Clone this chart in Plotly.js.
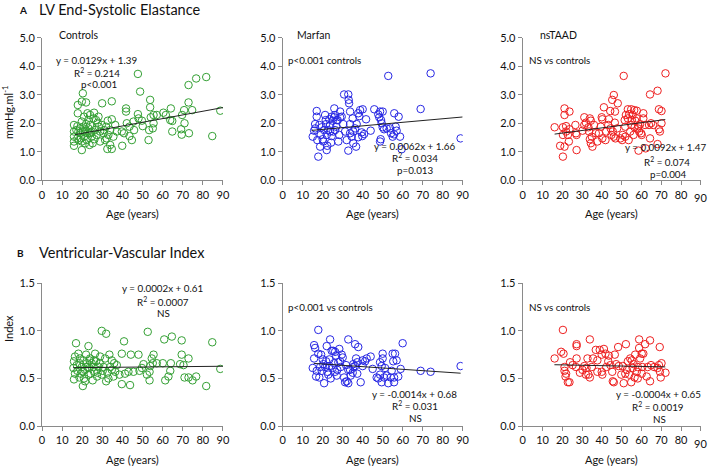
<!DOCTYPE html>
<html><head><meta charset="utf-8">
<script src="https://cdn.plot.ly/plotly-3.0.1.min.js"></script>
<style>html,body{margin:0;padding:0;background:#fff}#c{width:709px;height:466px}</style>
</head><body><div id="c"></div>
<script>
// ---- Data: LV End-Systolic Elastance (mmHg/ml) vs age ----
const eesControlsAge = [88.7,81.7,76.7,72.9,72.9,74.7,84.7,70.7,69.7,70.9,69.2,69.5,73.1,64.1,63.8,64.8,64.8,61.6,60.4,57.1,55.5,54.1,53.8,53.8,55.5,55.1,53.3,53.0,48.8,47.7,47.7,48.0,49.7,50.1,45.5,45.8,44.7,43.5,41.8,41.8,42.2,39.9,39.7,40.8,43.5,34.7,34.7,36.4,37.2,34.7,32.5,29.9,32.7,33.9,31.9,33.9,33.0,31.4,35.5,30.6,32.2,30.9,28.1,25.9,23.9,21.9,20.3,19.8,17.8,17.8,19.8,15.9,15.9,15.9,15.9,15.9,17.6,18.1,17.6,19.8,19.8,20.6,21.4,20.9,22.3,23.1,23.1,22.6,23.9,24.7,25.2,26.4,26.9,27.2,28.2,28.9,25.6,23.6,21.4,18.9,18.9,21.9,24.2,26.1,20.3,17.1,20.9,22.6,19.4,27.7,29.7,28.9,21.6,18.3,24.7,23.6];
const eesControlsVal = [2.44,3.62,3.57,3.34,2.73,2.46,1.55,2.46,2.29,2.00,1.79,1.60,1.65,2.52,2.11,2.08,1.71,2.29,2.37,2.29,2.29,2.21,2.82,2.56,2.00,1.82,1.76,1.41,3.11,3.73,2.32,2.17,2.09,1.90,2.06,1.76,1.41,1.55,2.52,2.41,2.00,1.21,1.71,1.65,1.88,2.77,2.14,1.94,1.71,1.10,1.10,2.70,2.09,1.24,1.88,1.76,1.59,1.41,1.53,1.65,1.47,1.76,2.23,2.37,2.29,2.73,3.05,2.76,2.64,2.35,1.06,1.94,1.71,1.53,1.36,1.21,1.90,1.71,1.47,1.36,2.06,1.88,1.71,1.53,1.41,2.11,1.82,1.65,1.94,1.53,1.30,1.76,2.11,1.59,1.88,1.36,2.17,1.24,1.30,1.65,1.82,1.97,1.67,1.44,1.71,1.76,2.23,2.35,1.47,2.02,1.94,1.71,1.79,1.41,1.71,1.65];
const eesMarfanAge = [89.0,74.0,52.8,69.0,58.0,55.8,59.5,58.7,56.5,57.0,55.7,55.0,53.7,52.0,50.0,50.7,49.0,48.7,50.0,48.3,49.2,49.5,47.8,45.8,44.0,41.7,40.0,38.7,37.8,38.3,37.0,39.5,39.8,36.7,36.2,35.3,34.5,33.7,35.0,32.8,33.0,33.2,33.7,30.7,32.8,32.0,33.7,29.5,28.7,28.3,27.8,27.0,26.7,26.2,25.8,25.7,25.0,24.5,24.2,23.7,23.3,22.8,22.3,22.0,21.7,21.2,20.7,20.0,19.5,19.0,18.3,17.8,18.7,17.0,17.0,16.2,15.7,15.0,16.3,17.3,20.3,22.0,27.5,28.7,30.3,31.2,25.3,23.7,40.7,37.8,35.3,54.2,48.7,21.5,24.5,26.2];
const eesMarfanVal = [1.47,3.75,3.66,2.50,2.23,2.35,1.09,1.53,1.88,1.74,1.61,1.53,1.82,1.82,1.86,1.79,1.44,2.41,2.41,2.21,2.11,2.00,2.31,2.49,1.74,2.14,2.49,2.46,2.35,2.25,1.97,1.68,1.55,1.18,1.82,1.71,1.53,1.65,2.17,3.01,2.82,2.70,2.41,3.01,1.04,1.41,1.97,2.23,2.41,1.59,1.36,2.11,1.88,1.76,2.52,2.21,2.09,1.55,1.32,1.94,2.14,1.76,1.21,1.59,1.97,2.29,1.76,1.44,1.86,1.59,1.94,0.83,1.18,2.43,2.23,1.97,1.74,1.53,1.82,1.41,1.36,1.06,2.11,2.21,1.97,1.71,1.71,1.71,1.62,1.51,1.30,1.65,1.36,2.11,2.23,2.29];
const eesTaadAge = [72.1,51.0,68.1,64.3,46.0,45.2,48.0,41.0,44.2,46.6,53.1,54.8,56.3,57.6,68.8,70.1,21.1,23.6,21.1,16.1,20.3,21.9,23.6,21.9,20.3,22.8,23.3,18.9,21.1,20.3,27.2,26.6,26.9,27.2,31.1,31.1,31.9,33.2,33.9,34.4,33.5,33.9,34.4,35.2,34.9,36.9,37.7,38.5,39.9,40.2,39.4,40.2,41.8,42.2,43.2,43.5,44.4,44.8,45.5,46.5,46.8,46.0,47.7,49.3,50.2,50.5,51.5,51.8,52.1,53.1,53.8,54.3,54.8,55.1,55.5,56.0,56.5,56.8,57.6,58.1,58.5,58.8,59.3,59.8,60.1,58.5,60.9,60.9,61.8,62.1,63.8,64.3,64.8,65.9,68.8,69.3,68.1,70.1,51.8,53.5,36.0,30.2];
const eesTaadVal = [3.75,3.66,3.14,3.01,2.99,2.82,2.70,2.56,2.43,2.41,2.49,2.49,2.46,2.44,2.49,2.43,2.52,2.41,2.29,1.86,1.86,1.90,1.79,1.71,1.59,1.59,1.36,1.21,1.18,0.83,1.06,1.94,1.65,1.59,2.21,1.94,2.02,1.86,2.17,2.09,1.71,1.44,1.30,1.18,1.53,1.65,1.36,1.65,2.21,2.14,1.88,1.47,1.41,1.71,1.94,2.14,1.82,1.59,1.71,2.02,1.47,1.53,1.82,1.47,1.41,1.59,2.11,1.88,2.29,2.17,2.32,1.71,1.94,2.11,2.29,1.59,1.86,2.09,2.17,1.82,1.90,1.71,1.97,1.65,1.59,1.04,2.35,2.17,1.94,1.12,1.94,1.47,2.00,1.94,1.79,1.71,1.27,2.00,1.53,1.41,1.94,1.74];

// ---- Data: Ventricular-Vascular Index vs age ----
const vviControlsAge = [88.7,84.7,81.7,76.7,74.9,72.9,72.9,70.9,69.5,69.5,68.7,70.4,64.6,60.8,64.1,63.8,62.9,61.3,60.1,57.1,55.5,54.6,55.1,53.8,53.5,53.5,52.6,50.5,48.0,48.5,45.5,44.2,43.8,43.0,41.3,40.8,39.7,39.7,38.5,37.2,36.4,35.5,34.7,33.9,33.5,32.5,31.9,31.9,29.7,31.4,30.6,29.7,28.9,28.1,27.6,26.9,26.4,25.9,25.2,24.7,23.9,23.6,23.1,23.1,22.3,21.9,21.4,20.9,20.6,20.3,19.8,19.3,18.6,18.1,17.6,16.9,16.4,15.9,15.6,15.9,16.4,17.3,18.6,21.4,22.6,24.2,25.6,27.4,28.7,30.2,33.0,34.7,35.9,20.3,23.6,18.9,25.9,49.7,52.2];
const vviControlsVal = [0.60,0.88,0.42,0.52,0.48,0.71,0.51,0.51,0.90,0.75,0.65,0.64,0.94,0.91,0.66,0.58,0.52,0.48,0.66,0.66,0.75,0.71,0.66,0.63,0.57,0.48,0.99,0.65,0.75,0.58,0.57,0.75,0.43,0.57,0.55,0.89,0.76,0.44,0.54,0.64,0.57,0.52,0.69,0.62,0.75,0.56,0.47,0.97,1.00,0.71,0.62,0.54,0.73,0.62,0.56,0.68,0.76,0.57,0.48,0.66,0.71,0.61,0.84,0.54,0.66,0.75,0.59,0.50,0.69,0.42,0.62,0.55,0.66,0.76,0.58,0.87,0.73,0.68,0.61,0.49,0.55,0.64,0.51,0.47,0.62,0.55,0.62,0.52,0.66,0.58,0.50,0.59,0.66,0.57,0.69,0.71,0.69,0.61,0.54];
const vviMarfanAge = [89.0,74.0,69.0,60.0,59.0,57.8,57.0,56.2,55.0,55.3,55.7,55.7,54.5,54.0,52.8,52.0,50.7,50.0,50.0,49.5,49.5,48.7,47.8,48.7,47.0,44.0,42.0,40.0,40.0,39.0,37.8,36.2,36.7,37.3,36.2,37.3,35.3,35.0,34.0,32.8,32.8,32.8,32.0,31.2,30.7,30.0,29.5,29.0,28.3,27.8,27.3,27.0,26.7,26.2,25.7,25.3,25.0,24.5,24.0,23.7,23.3,22.8,22.3,22.0,21.7,21.2,20.7,20.0,19.5,18.7,18.3,17.8,17.8,17.0,16.2,15.7,15.7,15.0,16.7,19.2,20.3,23.3,26.2,28.7,31.7,33.7,35.3,41.2,51.2,45.0];
const vviMarfanVal = [0.63,0.57,0.58,0.87,0.60,0.52,0.69,0.76,0.76,0.68,0.51,0.46,0.58,0.51,0.45,0.53,0.51,0.76,0.71,0.63,0.46,0.54,0.50,0.67,0.51,0.73,0.71,0.69,0.63,0.46,0.83,0.86,0.71,0.67,0.63,0.55,0.62,0.56,0.53,0.91,0.59,0.45,0.47,0.46,0.51,0.72,0.75,0.62,0.81,0.67,0.59,0.53,0.74,0.78,0.66,0.79,0.61,0.79,0.50,0.91,0.70,0.54,0.57,0.84,0.68,0.62,0.45,0.70,0.58,0.62,0.51,1.01,0.76,0.58,0.82,0.85,0.71,0.61,0.52,0.75,0.65,0.63,0.57,0.68,0.64,0.59,0.65,0.68,0.61,0.60];
const vviTaadAge = [72.1,69.7,69.2,70.1,68.8,69.3,68.1,64.3,64.3,64.8,63.1,62.6,61.8,60.9,60.4,60.1,58.8,58.8,59.3,60.1,58.1,57.6,56.8,56.5,56.0,55.1,54.8,54.3,53.8,53.1,52.6,52.1,51.8,51.0,50.5,49.8,48.2,47.2,46.5,46.0,45.5,45.2,44.3,43.5,43.2,42.2,41.8,41.0,40.2,39.9,39.9,38.9,37.7,36.9,35.5,33.9,33.9,33.2,32.7,32.2,31.9,31.1,28.9,27.2,27.2,26.9,27.2,23.9,23.6,22.8,21.9,21.6,21.1,21.1,20.3,20.6,19.4,16.1,25.2,30.2,34.9,48.5,58.1,66.4,37.7,55.5];
const vviTaadVal = [0.56,0.51,0.83,0.66,0.64,0.57,0.61,0.90,0.47,0.64,0.62,0.52,0.86,0.76,0.62,0.55,0.91,0.82,0.71,0.76,0.50,0.57,0.75,0.51,0.65,0.69,0.46,0.71,0.54,0.68,0.59,0.86,0.55,0.45,0.63,0.54,0.83,0.65,0.75,0.46,0.47,0.57,0.64,0.74,0.68,0.62,0.76,0.81,0.54,0.57,0.75,0.80,0.69,0.80,0.71,0.91,0.51,0.54,0.71,0.61,0.54,0.63,0.56,0.84,0.71,0.62,0.86,0.67,0.46,0.46,0.55,0.52,0.62,0.58,1.01,0.76,0.78,0.71,0.64,0.59,0.62,0.63,0.62,0.62,0.57,0.61];

// ---- Regression line end points ----
const fitEesControlsX = [16.4, 90];  const fitEesControlsY = [1.60, 2.55];
const fitEesMarfanX   = [14.5, 90];  const fitEesMarfanY   = [1.75, 2.22];
const fitEesTaadX     = [16.1, 72];  const fitEesTaadY     = [1.62, 2.13];
const fitVviControlsX = [15.5, 90];  const fitVviControlsY = [0.613, 0.628];
const fitVviMarfanX   = [15.5, 89];  const fitVviMarfanY   = [0.658, 0.555];
const fitVviTaadX     = [16, 72];    const fitVviTaadY     = [0.644, 0.621];

const xTickVals = [0,10,20,30,40,50,60,70,80,90];

// ---- Styling ----
const W = 709, H = 466;
const FONT = 'Lato, "Open Sans", sans-serif';
const TXT = '#111';
const GREEN = 'rgb(52,160,52)', BLUE = 'rgb(40,40,228)', RED = 'rgb(238,32,32)';
const px = (x) => x / W, py = (y) => 1 - y / H;

function scatter(x, y, color, ax) {
  return {x, y, type:'scatter', mode:'markers', xaxis:'x'+ax, yaxis:'y'+ax,
    marker:{symbol:'circle-open', size:7.5, color, line:{width:1, color}}, hoverinfo:'skip'};
}
function fit(x, y, ax) {
  return {x, y, type:'scatter', mode:'lines', xaxis:'x'+ax, yaxis:'y'+ax,
    line:{color:'#222', width:1}, hoverinfo:'skip'};
}
const data = [
  scatter(eesControlsAge, eesControlsVal, GREEN, ''), fit(fitEesControlsX, fitEesControlsY, ''),
  scatter(eesMarfanAge, eesMarfanVal, BLUE, '2'), fit(fitEesMarfanX, fitEesMarfanY, '2'),
  scatter(eesTaadAge, eesTaadVal, RED, '3'), fit(fitEesTaadX, fitEesTaadY, '3'),
  scatter(vviControlsAge, vviControlsVal, GREEN, '4'), fit(fitVviControlsX, fitVviControlsY, '4'),
  scatter(vviMarfanAge, vviMarfanVal, BLUE, '5'), fit(fitVviMarfanX, fitVviMarfanY, '5'),
  scatter(vviTaadAge, vviTaadVal, RED, '6'), fit(fitVviTaadX, fitVviTaadY, '6'),
];

const colsPx = [[42,223],[282.7,462.7],[522.7,701]];
const topY = [37.7,180.3], botY = [283.3,426];

const base = {showline:true, linecolor:'#8a8a8a', linewidth:1, ticks:'outside', ticklen:4,
  tickcolor:'#8a8a8a', showgrid:false, zeroline:false, fixedrange:true, ticklabeloverflow:'allow',
  tickfont:{family:FONT, size:11, color:TXT}};
function xax(i) {
  const anchor = ['y','y2','y3','y4','y5','y6'][i];
  const lastCol = (i % 3) === 2;
  // the right-most column's last label sits at the page edge; it is drawn as an annotation below
  const txt = xTickVals.map((v, k) => (lastCol && k === xTickVals.length - 1) ? ' ' : String(v));
  return Object.assign({}, base, {domain:[px(colsPx[i%3][0]), px(colsPx[i%3][1])], range:[-0.02,90.05],
    tickvals:xTickVals, ticktext:txt, tickmode:'array', anchor});
}
function yax(i, row) {
  const anchor = ['x','x2','x3','x4','x5','x6'][i];
  const yy = row === 0 ? topY : botY;
  const o = Object.assign({}, base, {domain:[py(yy[1]), py(yy[0])], anchor});
  if (row === 0) Object.assign(o, {range:[0,5], dtick:1, tickformat:'.1f'});
  else Object.assign(o, {range:[0,1.5], dtick:0.5, tickformat:'.1f'});
  return o;
}
const layout = {width:W, height:H, margin:{l:0,r:0,t:0,b:0}, showlegend:false,
  paper_bgcolor:'#fff', plot_bgcolor:'#fff', font:{family:FONT, color:TXT}};
const keysX = ['xaxis','xaxis2','xaxis3','xaxis4','xaxis5','xaxis6'];
const keysY = ['yaxis','yaxis2','yaxis3','yaxis4','yaxis5','yaxis6'];
for (let i = 0; i < 6; i++) { layout[keysX[i]] = xax(i); layout[keysY[i]] = yax(i, i<3?0:1); }

function T(text, x, y, size, opts) {
  return Object.assign({text, x:px(x), y:py(y), xref:'paper', yref:'paper', showarrow:false,
    xanchor:'center', yanchor:'middle', font:{family:FONT, size:size, color:TXT}}, opts||{});
}
const L = {xanchor:'left'};
const S = 9.8, N = 10.5;
const ann = [
  T('<b>A</b>', 22.7, 10.5, 10),
  T('LV End-Systolic Elastance', 37, 10, 14.5, L),
  T('<b>B</b>', 20.5, 253, 10),
  T('Ventricular-Vascular Index', 37, 252, 14.5, L),
  T('mmHg.ml<sup>-1</sup>', 8, 112, 11, {textangle:-90}),
  T('Index', 8, 329, 11, {textangle:-90}),
  T('Controls', 56.5, 35, N, L),
  T('y = 0.0129x + 1.39', 96.7, 60, S),
  T('R<sup>2</sup> = 0.214', 97, 72, S),
  T('p&lt;0.001', 99, 84, S),
  T('Marfan', 295, 35, N, L),
  T('p&lt;0.001 controls', 286, 60, S, L),
  T('y = 0.0062x + 1.66', 414.5, 145.7, S),
  T('R<sup>2</sup> = 0.034', 415, 157.5, S),
  T('p=0.013', 415, 170, S),
  T('nsTAAD', 538, 35, N, L),
  T('NS vs controls', 527, 60, S, L),
  T('y = 0.0092x + 1.47', 665, 147.3, S),
  T('R<sup>2</sup> = 0.074', 667, 161, S),
  T('p=0.004', 668, 174, S),
  T('y = 0.0002x + 0.61', 162.7, 288.3, S),
  T('R<sup>2</sup> = 0.0007', 162.7, 301, S),
  T('NS', 163.3, 312.7, S),
  T('p&lt;0.001 vs controls', 286, 306.7, S, L),
  T('y = -0.0014x + 0.68', 414, 394, S),
  T('R<sup>2</sup> = 0.031', 415, 405.7, S),
  T('NS', 415.7, 418.3, S),
  T('NS vs controls', 527.3, 306.7, S, L),
  T('y = -0.0004x + 0.65', 658.3, 394.3, S),
  T('R<sup>2</sup> = 0.0019', 658.3, 406, S),
  T('NS', 659, 418.7, S),
];
for (let c = 0; c < 3; c++) {
  const cx = (colsPx[c][0] + colsPx[c][1]) / 2;
  ann.push(T('Age (years)', cx, 214, 11));
  ann.push(T('Age (years)', cx, 459, 11));
}
// last tick label ("90") of the right-hand column, placed at x = 90 on its own axis
const lastTick = xTickVals[xTickVals.length - 1];
ann.push({text:String(lastTick), x:lastTick, xref:'x3', y:py(197), yref:'paper', showarrow:false,
  xanchor:'center', yanchor:'middle', font:{family:FONT, size:11, color:TXT}});
ann.push({text:String(lastTick), x:lastTick, xref:'x6', y:py(443), yref:'paper', showarrow:false,
  xanchor:'center', yanchor:'middle', font:{family:FONT, size:11, color:TXT}});
layout.annotations = ann;

Plotly.newPlot('c', data, layout, {displayModeBar:false, staticPlot:true});
</script>
</body></html>
